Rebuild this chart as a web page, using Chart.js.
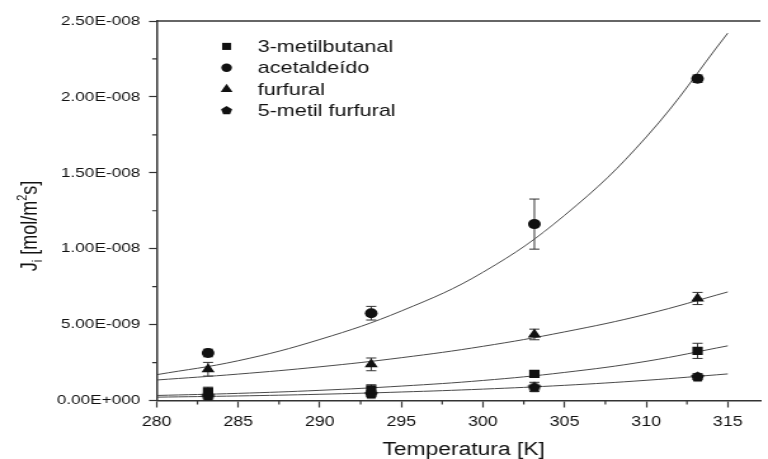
<!DOCTYPE html>
<html>
<head>
<meta charset="utf-8">
<script src="https://cdn.jsdelivr.net/npm/chart.js@4.4.0/dist/chart.umd.min.js"></script>
<style>
  html, body { margin: 0; padding: 0; background: #fff; overflow: hidden; }
  /* the original figure is stretched sideways, so the whole canvas is too */
  #wrap { width: 605px; height: 459px; transform: scaleX(1.2694); transform-origin: 0 0; }
</style>
</head>
<body>
<div id="wrap"><canvas id="fluxGraph" width="605" height="459"></canvas></div>
<script>
// measured temperatures (K)
var tempK = [283.15, 293.15, 303.15, 313.15];

// flux J_i (mol/m2s) and error bars
var metilbutanal = [0.58e-9, 0.74e-9, 1.75e-9, 3.27e-9];
var metilbutanalErr = [0.3e-9, 0.3e-9, 0.2e-9, 0.5e-9];
var acetaldeido = [3.13e-9, 5.75e-9, 1.162e-8, 2.12e-8];
var acetaldeidoErr = [0.25e-9, 0.45e-9, 1.65e-9, 0.25e-9];
var furfural = [2.06e-9, 2.38e-9, 4.35e-9, 6.72e-9];
var furfuralErr = [0.45e-9, 0.42e-9, 0.35e-9, 0.4e-9];
var metilFurfural = [0.30e-9, 0.45e-9, 0.90e-9, 1.58e-9];
var metilFurfuralErr = [0.2e-9, 0.2e-9, 0.3e-9, 0.2e-9];

// fitted curves
var fitT = [280, 285, 290, 295, 300, 305, 310, 315];
var fitMetilbutanal = [0.33e-9, 0.47e-9, 0.67e-9, 0.95e-9, 1.32e-9, 1.85e-9, 2.58e-9, 3.6e-9];
var fitAcetaldeido = [1.7e-9, 2.62e-9, 4.02e-9, 5.9e-9, 8.45e-9, 12.2e-9, 17.35e-9, 24.2e-9];
var fitFurfural = [1.35e-9, 1.74e-9, 2.22e-9, 2.82e-9, 3.57e-9, 4.52e-9, 5.68e-9, 7.15e-9];
var fitMetilFurfural = [0.22e-9, 0.30e-9, 0.41e-9, 0.56e-9, 0.75e-9, 1.0e-9, 1.33e-9, 1.75e-9];

// axis ticks
var xTicks = [280, 285, 290, 295, 300, 305, 310, 315];
var xMinor = [282.5, 287.5, 292.5, 297.5, 302.5, 307.5, 312.5];
var yTicks = [0, 5e-9, 1e-8, 1.5e-8, 2e-8, 2.5e-8];
var yMinor = [2.5e-9, 7.5e-9, 1.25e-8, 1.75e-8, 2.25e-8];

var FONT = "'Liberation Sans', Arial, sans-serif";
var INK = "#111";

function shapePath(ctx, style, x, y, r) {
  ctx.beginPath();
  if (style === "rect") {
    var s = Math.SQRT1_2 * r;
    ctx.rect(x - s, y - s, 2 * s, 2 * s);
  } else if (style === "circle") {
    ctx.arc(x, y, r, 0, Math.PI * 2);
  } else if (style === "triangle") {
    for (var k = 0; k < 3; k++) {
      var a = k * 2 * Math.PI / 3;
      ctx.lineTo(x + Math.sin(a) * r, y - Math.cos(a) * r);
    }
  } else {
    for (var k = 0; k < 5; k++) {
      var a = -Math.PI / 2 + k * 2 * Math.PI / 5;
      ctx.lineTo(x + Math.cos(a) * r, y + Math.sin(a) * r);
    }
  }
  ctx.closePath();
}

function pentagonImage(r) {
  var c = document.createElement("canvas");
  c.width = Math.ceil(2 * r + 2);
  c.height = Math.ceil(2 * r + 2);
  var g = c.getContext("2d");
  g.fillStyle = INK;
  shapePath(g, "pentagon", c.width / 2, c.height / 2 + 0.5, r);
  g.fill();
  return c;
}

var series = [
  { label: "3-metilbutanal", values: metilbutanal, errors: metilbutanalErr, fit: fitMetilbutanal, style: "rect", radius: 5.8, legendR: 5 },
  { label: "acetaldeído", values: acetaldeido, errors: acetaldeidoErr, fit: fitAcetaldeido, style: "circle", radius: 5, legendR: 4.2 },
  { label: "furfural", values: furfural, errors: furfuralErr, fit: fitFurfural, style: "triangle", radius: 6, legendR: 5.4 },
  { label: "5-metil furfural", values: metilFurfural, errors: metilFurfuralErr, fit: fitMetilFurfural, style: "pentagon", radius: 5.5, legendR: 4.6 }
];

var datasets = [];
series.forEach(function (s) {
  datasets.push({
    label: s.label,
    data: tempK.map(function (t, i) { return { x: t, y: s.values[i] }; }),
    showLine: false,
    pointStyle: s.style === "pentagon" ? pentagonImage(s.radius) : s.style,
    pointRadius: s.radius,
    pointBackgroundColor: INK,
    pointBorderWidth: 0
  });
});
series.forEach(function (s) {
  datasets.push({
    label: s.label + " fit",
    data: fitT.map(function (t, i) { return { x: t, y: s.fit[i] }; }),
    showLine: true,
    pointRadius: 0,
    borderColor: "#4a4a4a",
    borderWidth: 1,
    tension: 0.4,
    fill: false
  });
});

function sciLabel(v) {
  if (v === 0) return "0.00E+000";
  var p = v.toExponential(2).split("e");
  var n = parseInt(p[1], 10);
  return p[0] + "E" + (n < 0 ? "-" : "+") + String(Math.abs(n)).padStart(3, "0");
}

var decorations = {
  id: "decorations",
  beforeDatasetsDraw: function (chart) {
    var ctx = chart.ctx, xs = chart.scales.x, ys = chart.scales.y;
    ctx.save();
    ctx.strokeStyle = "#333";
    ctx.lineWidth = 1;
    series.forEach(function (s) {
      tempK.forEach(function (t, i) {
        var x = xs.getPixelForValue(t);
        var top = ys.getPixelForValue(s.values[i] + s.errors[i]);
        var bot = ys.getPixelForValue(s.values[i] - s.errors[i]);
        ctx.beginPath();
        ctx.moveTo(x, top); ctx.lineTo(x, bot);
        ctx.moveTo(x - 4, top); ctx.lineTo(x + 4, top);
        ctx.moveTo(x - 4, bot); ctx.lineTo(x + 4, bot);
        ctx.stroke();
      });
    });
    ctx.restore();
  },
  afterDraw: function (chart) {
    var ctx = chart.ctx, area = chart.chartArea, xs = chart.scales.x, ys = chart.scales.y;
    ctx.save();
    // top frame line
    ctx.strokeStyle = "#333";
    ctx.lineWidth = 1.5;
    ctx.beginPath();
    ctx.moveTo(area.left, area.top);
    ctx.lineTo(area.right, area.top);
    ctx.stroke();
    // minor ticks
    ctx.lineWidth = 1.2;
    ctx.beginPath();
    xMinor.forEach(function (v) {
      var x = xs.getPixelForValue(v);
      ctx.moveTo(x, area.bottom); ctx.lineTo(x, area.bottom + 4);
    });
    yMinor.forEach(function (v) {
      var y = ys.getPixelForValue(v);
      ctx.moveTo(area.left, y); ctx.lineTo(area.left - 3.5, y);
    });
    ctx.stroke();

    ctx.fillStyle = INK;
    // x title
    ctx.font = "18px " + FONT;
    ctx.textAlign = "center";
    ctx.textBaseline = "alphabetic";
    ctx.fillText("Temperatura [K]", (area.left + area.right) / 2 + 4, 455);

    // y title with sub/superscript
    var parts = [
      { t: "J", size: 18, dy: 0 },
      { t: "i", size: 11, dy: 4 },
      { t: " [mol/m", size: 18, dy: 0 },
      { t: "2", size: 11, dy: -8 },
      { t: "s]", size: 18, dy: 0 }
    ];
    var total = 0;
    parts.forEach(function (p) { ctx.font = p.size + "px " + FONT; p.w = ctx.measureText(p.t).width; total += p.w; });
    ctx.translate(22.5, 226);
    ctx.rotate(-Math.PI / 2);
    ctx.textAlign = "left";
    var u = -total / 2;
    parts.forEach(function (p) {
      ctx.font = p.size + "px " + FONT;
      ctx.fillText(p.t, u, 6.4 + p.dy);
      u += p.w;
    });
    ctx.setTransform(1, 0, 0, 1, 0, 0);

    // legend inside the plot
    ctx.font = "17px " + FONT;
    ctx.textAlign = "left";
    series.forEach(function (s, i) {
      var base = 51.7 + i * 21.4;
      shapePath(ctx, s.style, 178.5, base - 5.3, s.legendR);
      ctx.fill();
      ctx.fillText(s.label, 203, base);
    });
    ctx.restore();
  }
};

var ctx = document.getElementById("fluxGraph").getContext("2d");
var chart = new Chart(ctx, {
  type: "scatter",
  data: { datasets: datasets },
  options: {
    responsive: false,
    animation: false,
    events: [],
    layout: { padding: { top: 21, left: 0, right: 0, bottom: 0 } },
    plugins: { legend: { display: false }, tooltip: { enabled: false } },
    scales: {
      x: {
        type: "linear",
        min: 280,
        max: 317,
        afterBuildTicks: function (s) { s.ticks = xTicks.map(function (v) { return { value: v }; }); },
        afterFit: function (s) { s.height = 58.5; },
        ticks: { color: INK, font: { family: FONT, size: 14 }, padding: 6, autoSkip: false, maxRotation: 0 },
        grid: { drawOnChartArea: false, tickLength: 7, tickColor: "#333", tickWidth: 1.2 },
        border: { color: "#333", width: 1.5 }
      },
      y: {
        min: 0,
        max: 2.5e-8,
        afterBuildTicks: function (s) { s.ticks = yTicks.map(function (v) { return { value: v }; }); },
        afterFit: function (s) { s.width = 123.4; },
        ticks: { color: INK, font: { family: FONT, size: 13.5 }, padding: 7, callback: function (v) { return sciLabel(v); } },
        grid: { drawOnChartArea: false, tickLength: 6, tickColor: "#333", tickWidth: 1.2 },
        border: { color: "#333", width: 1.5 }
      }
    }
  },
  plugins: [decorations]
});
</script>
</body>
</html>
